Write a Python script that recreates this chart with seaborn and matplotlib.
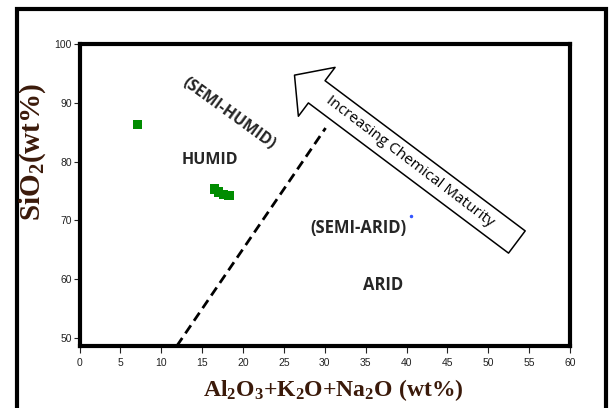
import matplotlib
matplotlib.use("Agg")
import matplotlib.pyplot as plt
import seaborn as sns
import pandas as pd
from matplotlib.patches import FancyArrowPatch, Rectangle, ArrowStyle

# ---- data ----
al_k_na = [7.1, 16.5, 17.0, 17.6, 18.3]
sio2 = [86.3, 75.3, 74.8, 74.4, 74.2]
x_ticks = list(range(0, 61, 5))
y_ticks = list(range(50, 101, 10))
boundary_x = [11.9, 30.1]
boundary_y = [48.6, 85.7]

sns.set_theme(style="white")
plt.rcParams['font.family'] = ['Liberation Sans', 'DejaVu Sans']
plt.rcParams['mathtext.fontset'] = 'custom'
plt.rcParams['mathtext.rm'] = 'Liberation Serif:bold'
plt.rcParams['mathtext.it'] = 'Liberation Serif:bold'
plt.rcParams['mathtext.bf'] = 'Liberation Serif:bold'

fig = plt.figure(figsize=(6.11, 4.08), dpi=100)
ax = fig.add_axes([79.5/611, 1-346/408, 490.5/611, 302/408])

df = pd.DataFrame({"x": al_k_na, "y": sio2})
sns.scatterplot(data=df, x="x", y="y", marker="s", color="#008c00",
                s=48, edgecolor="none", linewidth=0, ax=ax, zorder=5)

ax.plot(boundary_x, boundary_y, color="black", lw=2.0,
        linestyle=(0, (3.5, 2.0)), solid_capstyle="butt", dash_capstyle="butt")

ax.set_xlim(0, 60)
ax.set_ylim(48.6, 100)
ax.set_xticks(x_ticks)
ax.set_yticks(y_ticks)
ax.set_xlabel("")
ax.set_ylabel("")
for sp in ax.spines.values():
    sp.set_linewidth(3.0)
    sp.set_color("black")
ax.tick_params(axis="x", direction="out", length=5, width=0.8, pad=4,
               labelsize=7.5, colors="#222222", bottom=True)
ax.tick_params(axis="y", direction="out", length=4, width=0.8, pad=1.5,
               labelsize=7.5, colors="#222222", left=True)

# arrow
arrow = FancyArrowPatch((53.5, 66.3), (26.3, 94.7),
                        arrowstyle=ArrowStyle.Simple(head_length=20, head_width=44, tail_width=20),
                        mutation_scale=1, shrinkA=0, shrinkB=0,
                        facecolor="white", edgecolor="black", lw=1.1, zorder=4)
ax.add_patch(arrow)
ax.text(40.4, 80.0, "Increasing Chemical Maturity", rotation=-37.2,
        ha="center", va="center", fontsize=11, family=["Open Sans", "DejaVu Sans"],
        color="black", zorder=6, rotation_mode="anchor")

tfont = dict(family=["Open Sans", "DejaVu Sans"], fontweight="bold", color="#262626")
ax.text(18.3, 88.1, "(SEMI-HUMID)", rotation=-36, ha="center", va="center",
        fontsize=11.5, rotation_mode="anchor", **tfont)
ax.text(15.9, 80.3, "HUMID", ha="center", va="center", fontsize=11.5, **tfont)
ax.text(34.1, 68.7, "(SEMI-ARID)", ha="center", va="center", fontsize=12, **tfont)
ax.text(37.2, 59.0, "ARID", ha="center", va="center", fontsize=12, **tfont)
ax.plot([40.6], [70.7], marker="o", ms=1.5, color="#3355ff", lw=0)

# axis labels
lab_col = "#3b1a0a"
fig.text(333/611, 1-390/408, r"$\mathrm{Al_2O_3{+}K_2O{+}Na_2O\ (wt\%)}$",
         ha="center", va="center", fontsize=17, color=lab_col)
fig.text(33/611, 1-151.5/408, r"$\mathrm{SiO_2(wt\%)}$", rotation=90,
         ha="center", va="center", fontsize=21, color=lab_col)

# outer frame
fig.patches.append(Rectangle((17/611, -0.05), (606-17)/611, 1.05-9.5/408,
                             transform=fig.transFigure, fill=False,
                             edgecolor="black", lw=3.0, clip_on=False))

fig.savefig("out.png", dpi=100)
